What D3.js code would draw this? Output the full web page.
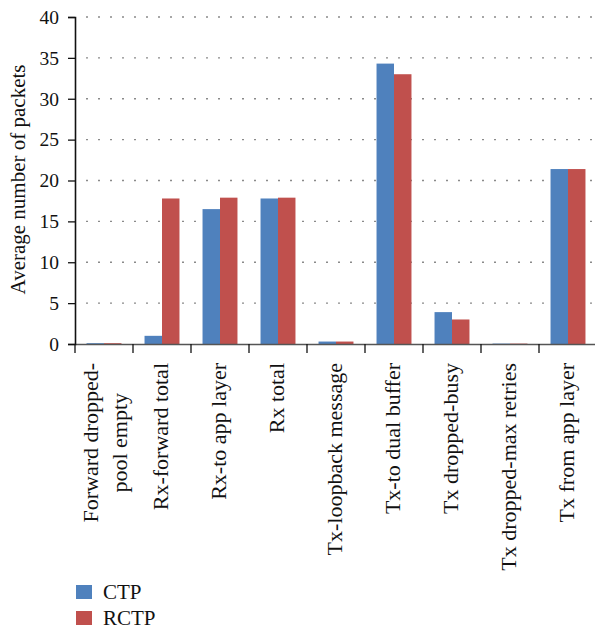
<!DOCTYPE html>
<html>
<head>
<meta charset="utf-8">
<script src="https://cdn.jsdelivr.net/npm/d3@7"></script>
<style>
  body { margin: 0; background: #fff; }
  text { font-family: "Liberation Serif", "DejaVu Serif", serif; fill: #111; }
</style>
</head>
<body>
<div id="chart"></div>
<script>
// data
var categories = [
  "Forward dropped-|pool empty",
  "Rx-forward total",
  "Rx-to app layer",
  "Rx total",
  "Tx-loopback message",
  "Tx-to dual buffer",
  "Tx dropped-busy",
  "Tx dropped-max retries",
  "Tx from app layer"
];
var seriesNames = ["CTP", "RCTP"];
var ctpValues  = [0.1, 1.0, 16.5, 17.8, 0.3, 34.3, 3.9, 0.05, 21.4];
var rctpValues = [0.1, 17.8, 17.9, 17.9, 0.3, 33.0, 3.0, 0.05, 21.4];
var yTicks = [0, 5, 10, 15, 20, 25, 30, 35, 40];
var colors = ["#4F81BD", "#C0504D"];

var W = 595, H = 629;
var margin = {top: 17, right: -2, bottom: 285, left: 75};
var width = W - margin.left - margin.right,
    height = H - margin.top - margin.bottom;

var svg = d3.select("#chart")
  .append("svg")
    .attr("width", W)
    .attr("height", H)
  .append("g")
    .attr("transform", "translate(" + margin.left + "," + margin.top + ")");

var x = d3.scaleBand()
  .domain(categories)
  .range([0, width])
  .padding(0);

var x1 = d3.scaleBand()
  .domain(seriesNames)
  .range([0, x.bandwidth()])
  .paddingInner(0)
  .paddingOuter(0.66);

var y = d3.scaleLinear()
  .domain([0, 40])
  .range([height, 0]);

// dotted grid
svg.append("g")
  .selectAll("line")
  .data(yTicks.filter(d => d > 0))
  .enter()
  .append("line")
    .attr("x1", 11)
    .attr("x2", width)
    .attr("y1", d => y(d))
    .attr("y2", d => y(d))
    .attr("stroke", "#8a8a8a")
    .attr("stroke-width", 1.3)
    .attr("stroke-dasharray", "2,10");

// bars
var rows = categories.map((c, i) => ({cat: c, vals: [ctpValues[i], rctpValues[i]]}));

svg.append("g")
  .selectAll("g")
  .data(rows)
  .enter()
  .append("g")
    .attr("transform", d => "translate(" + x(d.cat) + ",0)")
  .selectAll("rect")
  .data(d => d.vals.map((v, j) => ({name: seriesNames[j], v: v, j: j})))
  .enter()
  .append("rect")
    .attr("x", d => x1(d.name))
    .attr("y", d => y(d.v))
    .attr("width", x1.bandwidth())
    .attr("height", d => y(0) - y(d.v))
    .attr("fill", d => colors[d.j]);

// x axis
var xAxis = svg.append("g")
  .attr("transform", "translate(0," + height + ")")
  .call(d3.axisBottom(x).tickSize(0).tickFormat(""));
xAxis.select(".domain").attr("stroke", "#555").attr("stroke-width", 1.6);

// category separators
svg.append("g")
  .selectAll("line")
  .data(categories)
  .enter()
  .append("line")
    .attr("x1", d => x(d))
    .attr("x2", d => x(d))
    .attr("y1", height)
    .attr("y2", height + 9)
    .attr("stroke", "#111")
    .attr("stroke-width", 1.3);

// category labels, rotated; multi-line labels are centred lines in a block
var lab = svg.append("g")
  .selectAll("text")
  .data(categories)
  .enter()
  .append("text")
    .attr("transform", d => "translate(" + (x(d) + x.bandwidth() / 2) + "," + (height + 19) + ")rotate(-90)")
    .style("font-size", "22px");

lab.each(function(d) {
  var parts = d.split("|");
  var t = d3.select(this);
  if (parts.length == 1) {
    t.style("text-anchor", "end").attr("y", 5.5).text(d);
    return;
  }
  var spans = parts.map((p, k) => t.append("tspan")
      .attr("y", (k - (parts.length - 1) / 2) * 29 + 8.5)
      .text(p));
  var maxW = d3.max(spans, s => s.node().getComputedTextLength());
  spans.forEach(s => s.attr("x", -maxW / 2).style("text-anchor", "middle"));
});

// y axis
var yAxis = svg.append("g")
  .call(d3.axisLeft(y).tickValues(yTicks).tickSize(7).tickPadding(9));
yAxis.select(".domain").attr("stroke", "#111").attr("stroke-width", 1.6);
yAxis.selectAll(".tick line").attr("stroke", "#111").attr("stroke-width", 1.3);
yAxis.selectAll("text")
  .style("font-size", "19.5px")
  .style("font-family", "Liberation Serif, serif")
  .attr("fill", "#111");

svg.append("text")
  .attr("transform", "translate(-50," + (height / 2 - 1) + ")rotate(-90)")
  .style("text-anchor", "middle")
  .style("font-size", "21px")
  .text("Average number of packets");

// legend
var legend = svg.append("g")
  .attr("transform", "translate(1," + (585 - margin.top) + ")");

legend.selectAll("rect")
  .data(seriesNames)
  .enter()
  .append("rect")
    .attr("x", 0)
    .attr("y", (d, i) => i * 26)
    .attr("width", 16)
    .attr("height", 14)
    .attr("fill", (d, i) => colors[i]);

legend.selectAll("text")
  .data(seriesNames)
  .enter()
  .append("text")
    .attr("x", 27)
    .attr("y", (d, i) => i * 26 + 13.5)
    .style("font-size", "21px")
    .text(d => d);
</script>
</body>
</html>
